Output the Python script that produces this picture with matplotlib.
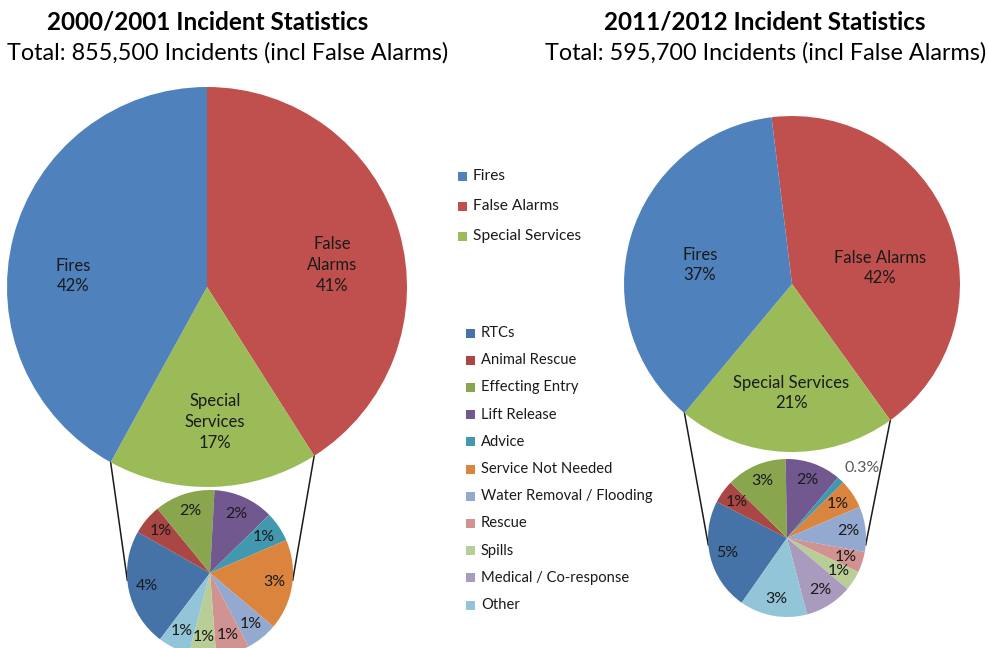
import numpy as np
import matplotlib.pyplot as plt

plt.rcParams['font.family'] = ['Lato', 'DejaVu Sans']

# main categories (legend order)
main_names = ["Fires", "False Alarms", "Special Services"]
main_2000 = [42, 41, 17]
main_2011 = [37, 42, 21]
main_colors = ["#4F81BD", "#C0504D", "#9BBB59"]
lbl_2000 = ["Fires", "False\nAlarms", "Special\nServices"]
lbl_2011 = ["Fires", "False Alarms", "Special Services"]

# special services breakdown, % of all incidents
sub_names = ["RTCs", "Animal Rescue", "Effecting Entry", "Lift Release", "Advice",
             "Service Not Needed", "Water Removal / Flooding", "Rescue", "Spills",
             "Medical / Co-response", "Other"]
sub_2000 = [3.9, 1.0, 2.0, 2.0, 1.0, 3.0, 1.05, 1.1, 0.9, 0.0, 1.05]
sub_2011 = [4.8, 1.0, 2.6, 2.4, 0.3, 1.25, 1.95, 0.9, 0.85, 2.05, 2.9]
sub_colors = ["#4572A7", "#AA4643", "#89A54E", "#71588F", "#4198AF", "#DB843D",
              "#93A9CF", "#D19392", "#B9CD96", "#A99BBD", "#92C5D7"]

titles = ["2000/2001 Incident Statistics", "2011/2012 Incident Statistics"]
subtitles = ["Total: 855,500 Incidents (incl False Alarms)",
             "Total: 595,700 Incidents (incl False Alarms)"]

W, H = 989, 648
fig = plt.figure(figsize=(W / 100, H / 100), dpi=100)
ax = fig.add_axes([0, 0, 1, 1])

def Y(y):
    return H - y

txt = "#1a1a1a"
# clockwise from the top: False Alarms, Special Services, Fires
order = [1, 2, 0]

def pie_of_pie(main, labels, sub, big_c, big_r, big_start, small_c, small_r, small_start, main_lbl_pos):
    wedges, _ = ax.pie([main[i] for i in order], colors=[main_colors[i] for i in order],
                       startangle=big_start, counterclock=False, radius=big_r,
                       center=(big_c[0], Y(big_c[1])), frame=True, wedgeprops=dict(linewidth=0))
    for name, val, pos in zip(labels, main, main_lbl_pos):
        ax.text(pos[0], Y(pos[1]), "%s\n%d%%" % (name, val), ha="center", va="center",
                fontsize=12, color=txt, linespacing=1.35)
    # small pie
    swedges, _ = ax.pie(sub, colors=sub_colors, startangle=small_start, counterclock=False,
                        radius=small_r, center=(small_c[0], Y(small_c[1])), frame=True,
                        wedgeprops=dict(linewidth=0))
    for w, v in zip(swedges, sub):
        if v <= 0:
            continue
        mid = np.deg2rad((w.theta1 + w.theta2) / 2)
        if v < 0.5:
            ax.text(small_c[0] + 1.08 * small_r * np.cos(mid), Y(small_c[1]) + 1.2 * small_r * np.sin(mid),
                    "%.1f%%" % v, ha="left", va="center", fontsize=11.5, color="#595959")
        else:
            ax.text(small_c[0] + 0.78 * small_r * np.cos(mid), Y(small_c[1]) + 0.78 * small_r * np.sin(mid),
                    "%.0f%%" % v, ha="center", va="center", fontsize=11.5, color=txt)
    # connector lines from the special services wedge edges to the small pie
    ss = wedges[1]
    lo, hi = min(ss.theta1, ss.theta2), max(ss.theta1, ss.theta2)
    for ang_big, ang_small in [(lo, 185), (hi, -5)]:
        a1, a2 = np.deg2rad(ang_big), np.deg2rad(ang_small)
        ax.plot([big_c[0] + big_r * np.cos(a1), small_c[0] + small_r * np.cos(a2)],
                [Y(big_c[1]) + big_r * np.sin(a1), Y(small_c[1]) + small_r * np.sin(a2)],
                color="#1a1a1a", lw=1.1, zorder=0)

pie_of_pie(main_2000, lbl_2000, sub_2000, (207, 287), 200, 90, (210, 573), 83, -127,
           [(73, 276), (332, 265), (215, 422)])
pie_of_pie(main_2011, lbl_2011, sub_2011, (792, 284), 168, 97, (787, 538), 79, -125,
           [(700, 265), (880, 268), (791, 393)])

# titles
for cx1, cx2, t, s in zip([208, 765], [228, 766], titles, subtitles):
    ax.text(cx1, Y(22), t, ha="center", va="center", fontsize=17.5, fontweight="bold", color="black")
    ax.text(cx2, Y(53), s, ha="center", va="center", fontsize=16.8, color="black")

# legends
for i, (n, c) in enumerate(zip(main_names, main_colors)):
    y = 176 + 30 * i
    ax.add_patch(plt.Rectangle((458, Y(y) - 4.5), 9, 9, color=c, lw=0))
    ax.text(473, Y(y), n, ha="left", va="center", fontsize=11.2, color=txt)
for i, (n, c) in enumerate(zip(sub_names, sub_colors)):
    y = 333 + 27.2 * i
    ax.add_patch(plt.Rectangle((466, Y(y) - 4.5), 9, 9, color=c, lw=0))
    ax.text(481, Y(y), n, ha="left", va="center", fontsize=10.6, color=txt)

ax.set_xlim(0, W)
ax.set_ylim(0, H)
ax.set_aspect("auto")
ax.axis("off")
fig.savefig("out.png", dpi=100)
